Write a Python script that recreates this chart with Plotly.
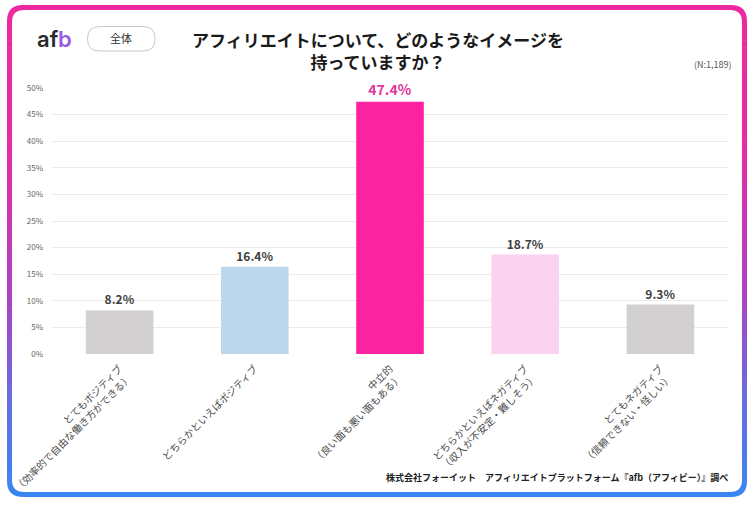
import plotly.graph_objects as go

# survey data
categories = [
    "とてもポジティブ<br>（効率的で自由な働き方ができる）",
    "どちらかといえばポジティブ",
    "中立的<br>（良い面も悪い面もある）",
    "どちらかといえばネガティブ<br>（収入が不安定・難しそう）",
    "とてもネガティブ<br>（信頼できない・怪しい）",
]
shares = [8.2, 16.4, 47.4, 18.7, 9.3]
y_ticks = [0, 5, 10, 15, 20, 25, 30, 35, 40, 45, 50]
y_tick_labels = [f"{v}%" for v in y_ticks]

title_text = "アフィリエイトについて、どのようなイメージを<br>持っていますか？"
sample_note = "(N:1,189)"
source_note = "株式会社フォーイット　アフィリエイトプラットフォーム『afb（アフィビー）』調べ"
segment_label = "全体"

bar_colors = ["#d3d0d1", "#bcd7ec", "#fa23a0", "#fbd3f1", "#d3d0d1"]
label_colors = ["#404040", "#404040", "#e0359d", "#404040", "#404040"]
label_sizes = [12, 12, 14, 12, 12]

W, H = 753, 506
ML, MR, MT, MB = 52, 25, 88, 152
PW, PH = W - ML - MR, H - MT - MB
FONT = "Noto Sans CJK JP"


def px_x(x):
    return (x - ML) / PW


def px_y(y):
    return (H - MB - y) / PH


def rounded_path(x0, y0, x1, y1, r):
    pts = [
        ("M", [(x0 + r, y0)]),
        ("L", [(x1 - r, y0)]),
        ("Q", [(x1, y0), (x1, y0 + r)]),
        ("L", [(x1, y1 - r)]),
        ("Q", [(x1, y1), (x1 - r, y1)]),
        ("L", [(x0 + r, y1)]),
        ("Q", [(x0, y1), (x0, y1 - r)]),
        ("L", [(x0, y0 + r)]),
        ("Q", [(x0, y0), (x0 + r, y0)]),
    ]
    out = ""
    for cmd, coords in pts:
        out += cmd + " ".join(f"{px_x(a):.5f},{px_y(b):.5f}" for a, b in coords) + " "
    return out + "Z"


def lerp_color(t):
    stops = [
        (0.0, (238, 40, 160)),
        (0.3, (230, 44, 164)),
        (0.6, (168, 68, 195)),
        (0.8, (105, 108, 225)),
        (1.0, (55, 135, 242)),
    ]
    for (t0, c0), (t1, c1) in zip(stops[:-1], stops[1:]):
        if t <= t1:
            f = (t - t0) / (t1 - t0)
            return "rgb(%d,%d,%d)" % tuple(round(a + (b - a) * f) for a, b in zip(c0, c1))
    return "rgb(%d,%d,%d)" % stops[-1][1]


fig = go.Figure()

fig.add_trace(
    go.Bar(
        x=categories,
        y=shares,
        marker={"color": bar_colors, "line": {"width": 0}},
        texttemplate="<b>%{y:.1f}%</b>",
        textposition="outside",
        textfont={"color": label_colors, "size": label_sizes, "family": FONT},
        cliponaxis=False,
        hoverinfo="skip",
    )
)

shapes = []

# gradient frame built from thin strips
fx0, fy0, fx1, fy1 = 7, 5, 747, 497
n_strips = 70
step = (fy1 - fy0) / n_strips
for i in range(n_strips):
    ya = fy0 + i * step
    yb = min(fy1, ya + step + 0.6)
    shapes.append(dict(
        type="rect", xref="paper", yref="paper", layer="below",
        x0=px_x(fx0), x1=px_x(fx1), y0=px_y(ya), y1=px_y(yb),
        fillcolor=lerp_color((i + 0.5) / n_strips), line={"width": 0},
    ))

# white masks for the outer rounded corners
r_out = 16
for cx, cy, sx, sy in [(fx0, fy0, 1, 1), (fx1, fy0, -1, 1), (fx0, fy1, 1, -1), (fx1, fy1, -1, -1)]:
    ex, ey = cx - sx * 1, cy - sy * 1
    path = (
        f"M{px_x(ex):.5f},{px_y(ey):.5f} "
        f"L{px_x(cx + sx * r_out):.5f},{px_y(ey):.5f} "
        f"L{px_x(cx + sx * r_out):.5f},{px_y(cy):.5f} "
        f"Q{px_x(cx):.5f},{px_y(cy):.5f} {px_x(cx):.5f},{px_y(cy + sy * r_out):.5f} "
        f"L{px_x(ex):.5f},{px_y(cy + sy * r_out):.5f} Z"
    )
    shapes.append(dict(type="path", xref="paper", yref="paper", layer="below",
                       path=path, fillcolor="white", line={"width": 0}))

# inner white panel
shapes.append(dict(type="path", xref="paper", yref="paper", layer="below",
                   path=rounded_path(12, 10, 742, 492, 12),
                   fillcolor="white", line={"width": 0}))

# segment pill
shapes.append(dict(type="path", xref="paper", yref="paper", layer="below",
                   path=rounded_path(87.5, 26.5, 155, 51, 12),
                   fillcolor="white", line={"color": "#c8c8c8", "width": 1}))

annotations = [
    dict(text=f"<b>{title_text}</b>", x=px_x(378), y=px_y(50), xref="paper", yref="paper",
         showarrow=False, xanchor="center", yanchor="middle",
         font={"size": 17, "color": "#1a1a1a", "family": FONT}),
    dict(text=segment_label, x=px_x(121), y=px_y(38.5), xref="paper", yref="paper",
         showarrow=False, xanchor="center", yanchor="middle",
         font={"size": 11, "color": "#333333", "family": FONT}),
    dict(text="af", x=px_x(35), y=px_y(39), xref="paper", yref="paper",
         showarrow=False, xanchor="left", yanchor="middle",
         font={"size": 22, "color": "#2a2a2a", "family": "Inter", "weight": 600}),
    dict(text="b", x=px_x(56), y=px_y(39), xref="paper", yref="paper",
         showarrow=False, xanchor="left", yanchor="middle",
         font={"size": 22, "color": "#9a5ae2", "family": "Inter", "weight": 600}),
    dict(text=sample_note, x=px_x(734), y=px_y(65), xref="paper", yref="paper",
         showarrow=False, xanchor="right", yanchor="middle",
         font={"size": 9, "color": "#555555", "family": FONT}),
    dict(text=f"<b>{source_note}</b>", x=px_x(730), y=px_y(478), xref="paper", yref="paper",
         showarrow=False, xanchor="right", yanchor="middle",
         font={"size": 9, "color": "#222222", "family": FONT}),
]

fig.update_layout(
    width=W,
    height=H,
    margin={"l": ML, "r": MR, "t": MT, "b": MB, "autoexpand": False},
    paper_bgcolor="white",
    plot_bgcolor="rgba(0,0,0,0)",
    font={"family": FONT},
    bargap=0.5,
    showlegend=False,
    shapes=shapes,
    annotations=annotations,
)

fig.update_yaxes(
    range=[0, 50],
    tickmode="array",
    tickvals=y_ticks,
    ticktext=y_tick_labels,
    showgrid=True,
    gridcolor="#ececec",
    gridwidth=1,
    zeroline=False,
    showline=False,
    ticklabelstandoff=8,
    tickfont={"size": 8, "color": "#666666"},
    fixedrange=True,
)

fig.update_xaxes(
    tickangle=-45,
    showgrid=False,
    showline=False,
    ticks="outside",
    ticklen=4,
    tickcolor="rgba(0,0,0,0)",
    tickfont={"size": 10, "color": "#4a4a4a"},
    fixedrange=True,
)

fig.write_html(
    "out.html",
    config={"displayModeBar": False},
    post_script="document.body.style.margin='0';document.body.style.overflow='hidden';",
)
